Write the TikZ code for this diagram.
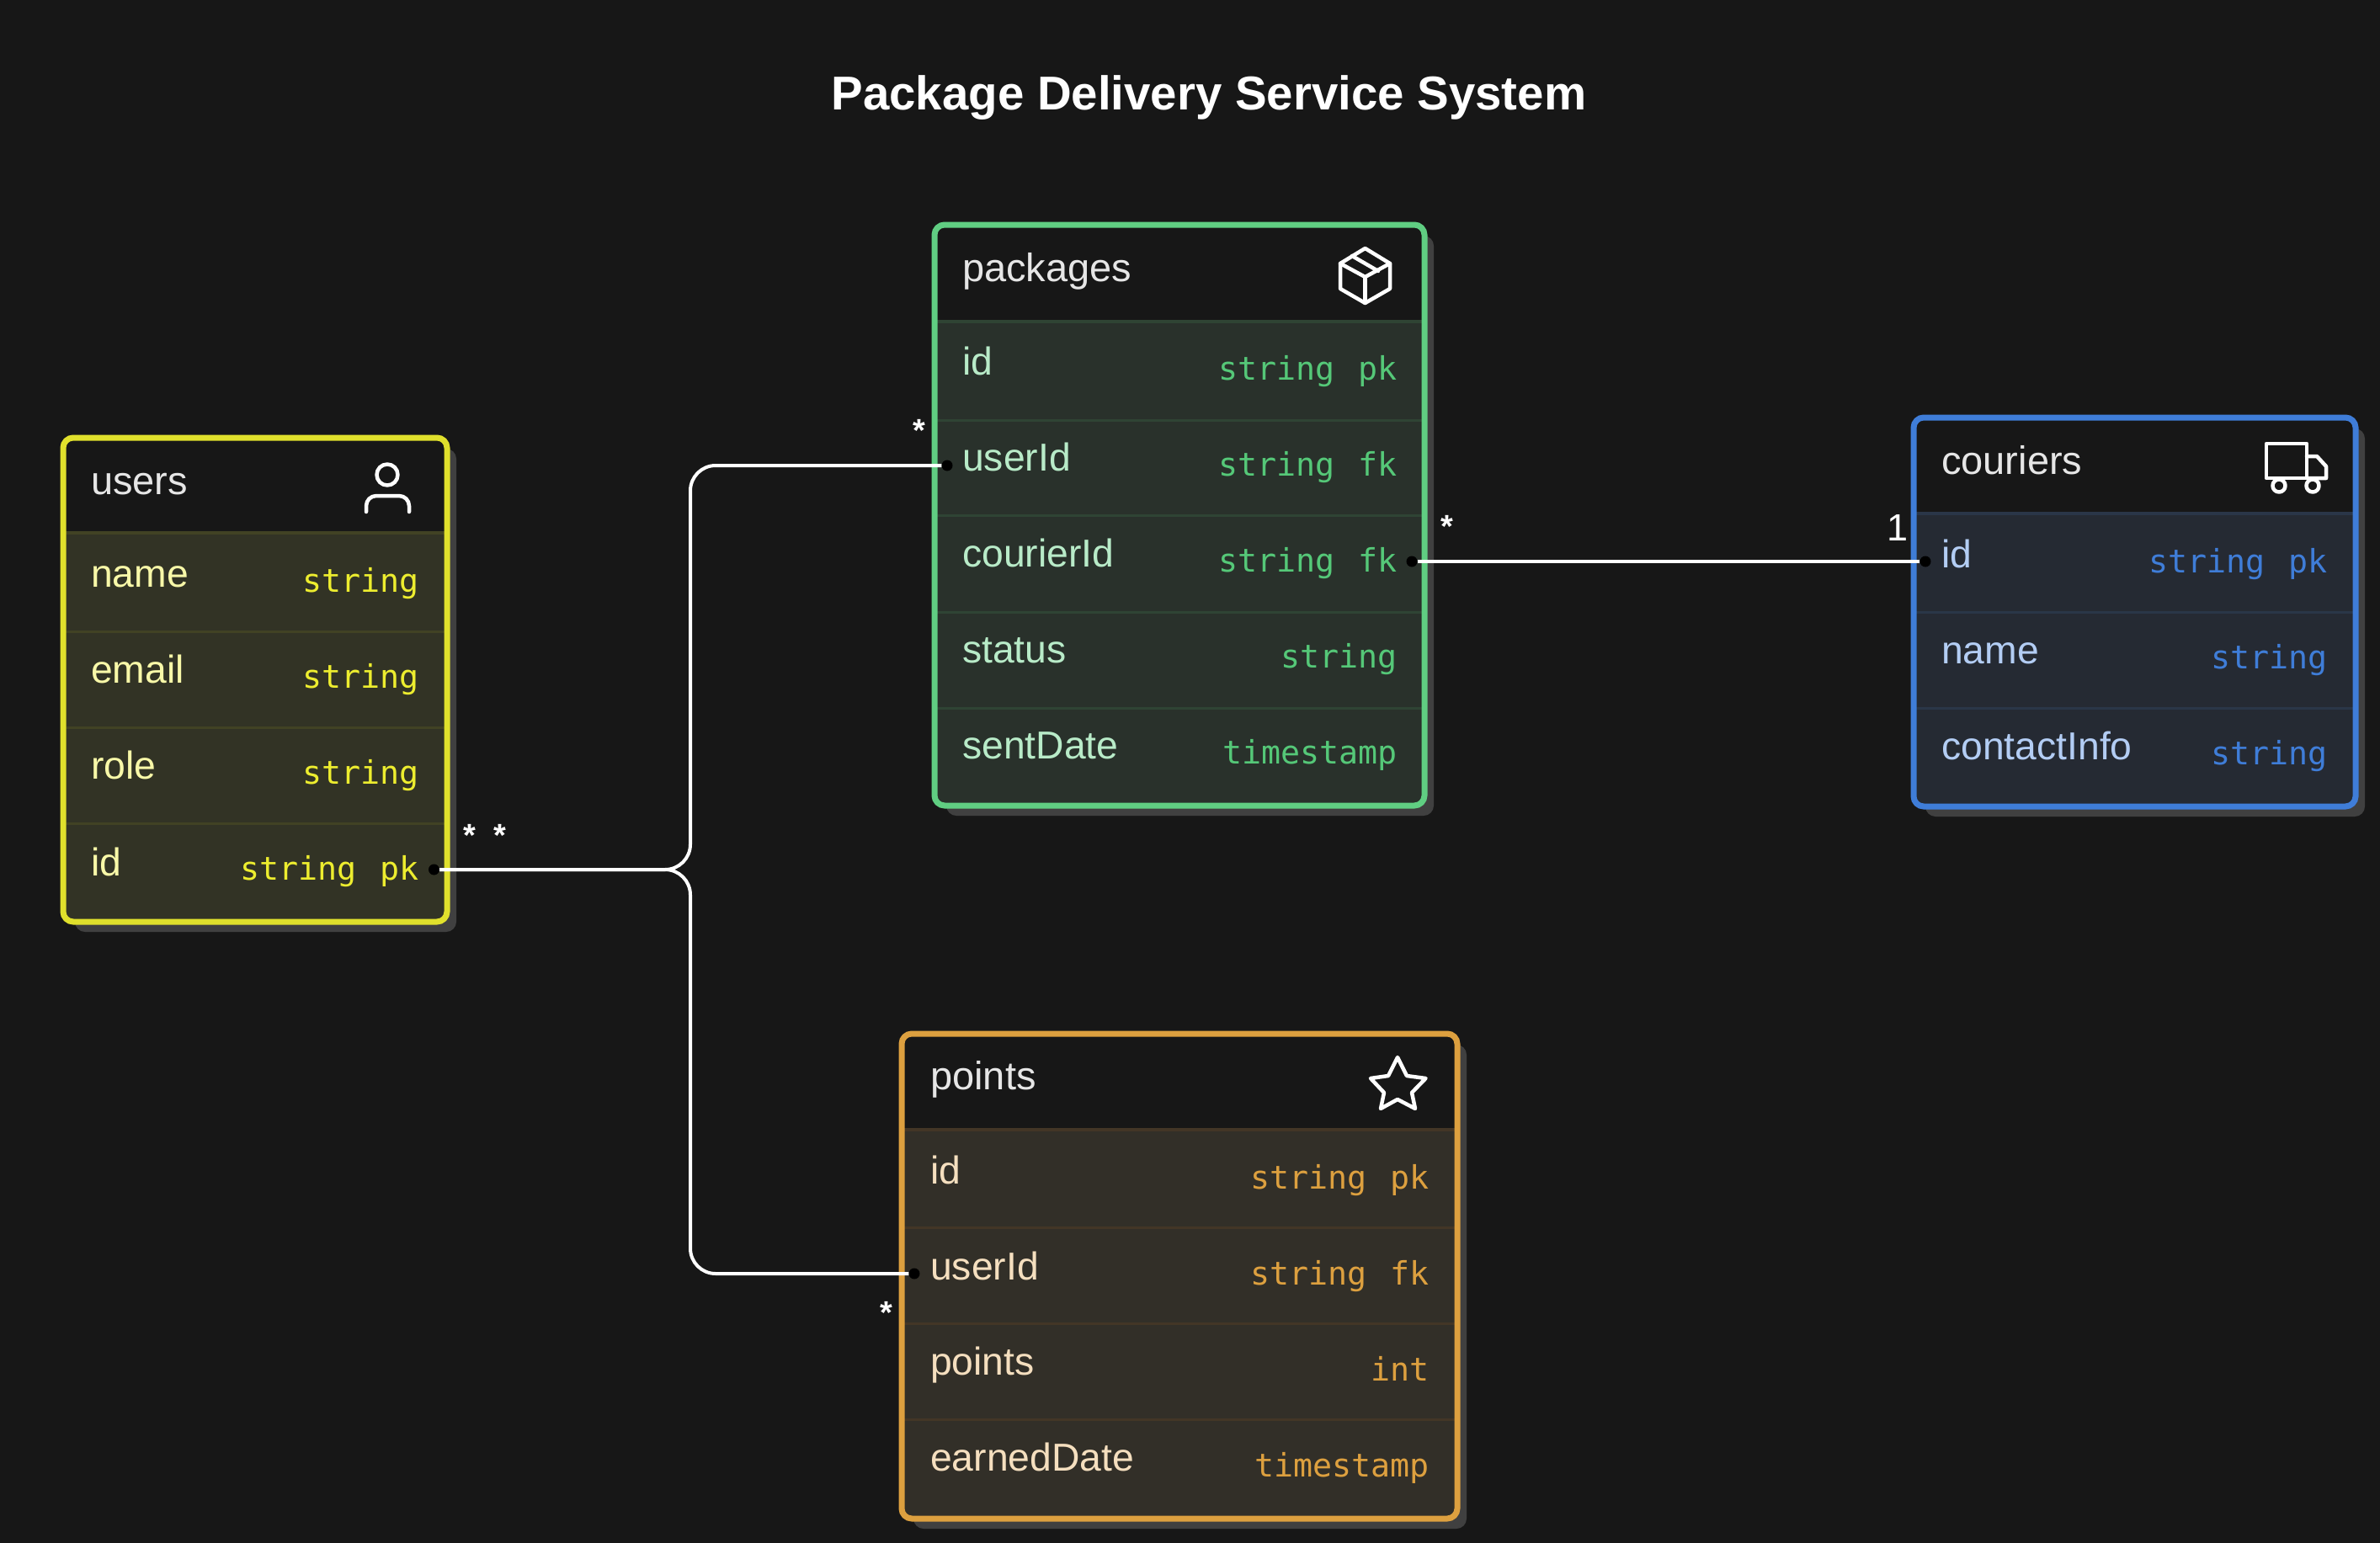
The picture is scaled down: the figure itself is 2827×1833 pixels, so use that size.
\documentclass[tikz,border=0pt]{standalone}
\usepackage{fontspec}
\setmainfont{Liberation Sans}
\newfontfamily\typefont{DejaVu Sans Mono}
\definecolor{bgc}{HTML}{171717}
\definecolor{shadowc}{HTML}{404040}
\definecolor{headc}{HTML}{E6E6E6}
\definecolor{ybord}{HTML}{E0E02C}\definecolor{ybody}{HTML}{323325}\definecolor{yline}{HTML}{414224}\definecolor{ylab}{HTML}{F8F8A8}\definecolor{ytyp}{HTML}{EDED2F}
\definecolor{gbord}{HTML}{60CE82}\definecolor{gbody}{HTML}{29312B}\definecolor{gline}{HTML}{2F4434}\definecolor{glab}{HTML}{B8EBC8}\definecolor{gtyp}{HTML}{55C878}
\definecolor{bbord}{HTML}{3F7DD8}\definecolor{bbody}{HTML}{252A33}\definecolor{bline}{HTML}{2A3648}\definecolor{blab}{HTML}{B3CDF4}\definecolor{btyp}{HTML}{3F7DD8}
\definecolor{obord}{HTML}{DDA03F}\definecolor{obody}{HTML}{322F28}\definecolor{oline}{HTML}{433626}\definecolor{olab}{HTML}{F5DFBF}\definecolor{otyp}{HTML}{DDA03F}
\tikzset{
  titletext/.style={anchor=base,inner sep=0pt,text=white,font=\fontsize{56.4}{60}\selectfont\bfseries},
  headtext/.style={anchor=base west,inner sep=0pt,text=headc,yshift=-1.5pt,font=\fontsize{47}{52}\selectfont},
  labtext/.style={anchor=base west,inner sep=0pt,yshift=-1.5pt,font=\fontsize{46.3}{50}\selectfont},
  typtext/.style={anchor=base east,inner sep=0pt,xshift=1pt,font=\fontsize{38.3}{42}\selectfont\typefont},
  cardtext/.style={anchor=base,inner sep=0pt,text=white,font=\fontsize{38}{42}\selectfont\bfseries},
  onetext/.style={anchor=base,inner sep=0pt,text=white,font=\fontsize{45}{50}\selectfont},
  portdot/.style={circle,fill=black,inner sep=0pt,minimum size=13pt},
  relline/.style={draw=white,line width=4pt,rounded corners=30pt},
  iconline/.style={draw=white,line width=4.5pt,line cap=round,line join=round},
}
% name, x1, y1, x2, y2, colour prefix, header line y
\newcommand{\erframe}[7]{%
  \fill[shadowc,rounded corners=12pt] ({#2+14},{#3+13}) rectangle ({#4+11},{#5+12});
  \begin{scope}
    \clip[rounded corners=12pt] (#2,#3) rectangle (#4,#5);
    \fill[#6body] (#2,#3) rectangle (#4,#5);
    \fill[bgc] (#2,#3) rectangle (#4,#7);
    \draw[#6line,line width=4pt] (#2,#7) -- (#4,#7);
  \end{scope}
}
\newcommand{\erborder}[6]{%
  \node[draw=#6bord,line width=7pt,rounded corners=12pt,inner sep=0pt,outer sep=0pt,
        minimum width={(#4-#2)*1pt},minimum height={(#5-#3)*1pt}]
        (#1) at ({(#2+#4)/2},{(#3+#5)/2}) {};
}
\newcommand{\rowline}[4]{\draw[#4line,line width=3pt] (#1,#3) -- (#2,#3);}
\begin{document}
\begin{tikzpicture}[x=1pt,y=-1pt]
\useasboundingbox (0,0) rectangle (2827,1833);
\fill[bgc] (0,0) rectangle (2827,1833);

\node[titletext] (title) at (1436,131) {Package Delivery Service System};

% users
\erframe{users}{75}{520}{531}{1095}{y}{633}
\rowline{75}{531}{750}{y}\rowline{75}{531}{864}{y}\rowline{75}{531}{978}{y}
\erborder{users}{75}{520}{531}{1095}{y}
\node[headtext] (usershead) at (108,586) {users};
\node[labtext,text=ylab] (ul1) at (108,696) {name};
\node[labtext,text=ylab] (ul2) at (108,810) {email};
\node[labtext,text=ylab] (ul3) at (108,924) {role};
\node[labtext,text=ylab] (ul4) at (108,1039) {id};
\node[typtext,text=ytyp] (ut1) at (497,703) {string};
\node[typtext,text=ytyp] (ut2) at (497,817) {string};
\node[typtext,text=ytyp] (ut3) at (497,931) {string};
\node[typtext,text=ytyp] (ut4) at (497,1045) {string\hspace{5pt} pk};
\draw[iconline] (460,564) circle (12.5);
\draw[iconline,rounded corners=12pt] (435,608) -- (435,589) -- (486,589) -- (486,608);

% packages
\erframe{packages}{1110}{267}{1692}{957}{g}{382}
\rowline{1110}{1692}{499}{g}\rowline{1110}{1692}{612}{g}\rowline{1110}{1692}{727}{g}\rowline{1110}{1692}{841}{g}
\erborder{packages}{1110}{267}{1692}{957}{g}
\node[headtext] (packageshead) at (1143,333) {packages};
\node[labtext,text=glab] (pl1) at (1143,444) {id};
\node[labtext,text=glab] (pl2) at (1143,558) {userId};
\node[labtext,text=glab] (pl3) at (1143,672) {courierId};
\node[labtext,text=glab] (pl4) at (1143,786) {status};
\node[labtext,text=glab] (pl5) at (1143,900) {sentDate};
\node[typtext,text=gtyp] (pt1) at (1659,451) {string\hspace{5pt} pk};
\node[typtext,text=gtyp] (pt2) at (1659,565) {string\hspace{5pt} fk};
\node[typtext,text=gtyp] (pt3) at (1659,679) {string\hspace{5pt} fk};
\node[typtext,text=gtyp] (pt4) at (1659,793) {string};
\node[typtext,text=gtyp] (pt5) at (1659,907) {timestamp};
\draw[iconline] (1621.5,295) -- (1651,313) -- (1651,343) -- (1621.5,360) -- (1592,343) -- (1592,313) -- cycle;
\draw[iconline] (1592,313) -- (1621.5,329) -- (1651,313);
\draw[iconline] (1621.5,329) -- (1621.5,360);
\draw[iconline] (1606,304) -- (1637,322);

% couriers
\erframe{couriers}{2273}{496}{2798}{958}{b}{610}
\rowline{2273}{2798}{727}{b}\rowline{2273}{2798}{841}{b}
\erborder{couriers}{2273}{496}{2798}{958}{b}
\node[headtext] (couriershead) at (2306,562) {couriers};
\node[labtext,text=blab] (cl1) at (2306,673) {id};
\node[labtext,text=blab] (cl2) at (2306,787) {name};
\node[labtext,text=blab] (cl3) at (2306,901) {contactInfo};
\node[typtext,text=btyp] (ct1) at (2764,680) {string\hspace{5pt} pk};
\node[typtext,text=btyp] (ct2) at (2764,794) {string};
\node[typtext,text=btyp] (ct3) at (2764,908) {string};
\draw[iconline] (2692,527) rectangle (2740,568);
\draw[iconline] (2740,542) -- (2752,542) -- (2763,554) -- (2763,568) -- (2740,568);
\draw[iconline,fill=bgc] (2707,577) circle (7.5);
\draw[iconline,fill=bgc] (2747,577) circle (7.5);

% points
\erframe{points}{1071}{1228}{1731}{1804}{o}{1342}
\rowline{1071}{1731}{1458}{o}\rowline{1071}{1731}{1572}{o}\rowline{1071}{1731}{1686}{o}
\erborder{points}{1071}{1228}{1731}{1804}{o}
\node[headtext] (pointshead) at (1105,1293) {points};
\node[labtext,text=olab] (ol1) at (1105,1405) {id};
\node[labtext,text=olab] (ol2) at (1105,1519) {userId};
\node[labtext,text=olab] (ol3) at (1105,1632) {points};
\node[labtext,text=olab] (ol4) at (1105,1746) {earnedDate};
\node[typtext,text=otyp] (ot1) at (1697,1412) {string\hspace{5pt} pk};
\node[typtext,text=otyp] (ot2) at (1697,1526) {string\hspace{5pt} fk};
\node[typtext,text=otyp] (ot3) at (1697,1640) {int};
\node[typtext,text=otyp] (ot4) at (1697,1754) {timestamp};
\draw[iconline] (1660,1256) -- (1671,1278) -- (1693.5,1281) -- (1677,1298) -- (1681,1317) -- (1660,1306) -- (1640,1317) -- (1644,1298) -- (1628,1281) -- (1649,1278) -- cycle;

% ports and connectors
\node[portdot] (du) at (515.5,1033) {};
\node[portdot] (dpu) at (1125,553) {};
\node[portdot] (dpc) at (1677,667) {};
\node[portdot] (dci) at (2287,667) {};
\node[portdot] (dou) at (1086,1513) {};
\coordinate (bend) at (820,1033);
\draw[relline] (du.east) -- (bend) |- (dpu.west);
\draw[relline] (du.east) -- (bend) |- (dou.west);
\draw[relline] (dpc.east) -- (dci.west);

% cardinalities
\node[cardtext] (c1) at (558,1005) {*};
\node[cardtext] (c2) at (594,1005) {*};
\node[cardtext] (c3) at (1092,524) {*};
\node[cardtext] (c4) at (1719,638) {*};
\node[cardtext] (c5) at (1053,1572) {*};
\node[onetext] (c6) at (2254,642) {1};
\end{tikzpicture}
\end{document}
